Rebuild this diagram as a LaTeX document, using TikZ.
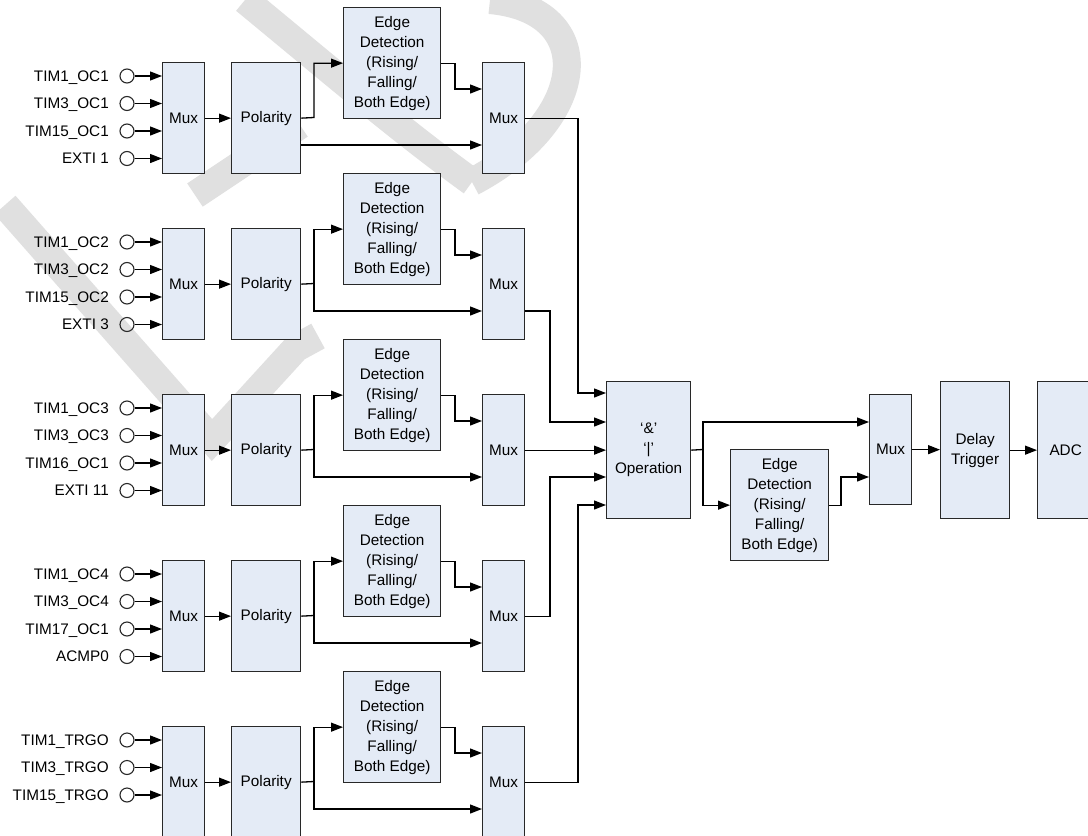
\documentclass[tikz,border=0pt]{standalone}
\usepackage{fontspec}
\setmainfont{Liberation Sans}
\usetikzlibrary{arrows.meta}
\definecolor{boxfill}{RGB}{228,235,246}
\definecolor{boxline}{RGB}{40,40,40}
\definecolor{wm}{RGB}{224,224,224}
\begin{document}
\begin{tikzpicture}[x=1pt,y=-1pt,
  blk/.style={draw=boxline, fill=boxfill, line width=1.3pt, inner sep=0pt, align=center,
              font=\fontsize{15.3}{20}\selectfont, anchor=north west},
  arr/.style={line width=1.3pt, draw=black, -{Triangle[length=12pt,width=9pt]}},
  ln/.style={line width=1.3pt, draw=black},
  port/.style={circle, draw=boxline, line width=1.1pt, minimum size=14pt, inner sep=0pt},
  lbl/.style={font=\fontsize{15.3}{18}\selectfont, anchor=east, inner sep=0pt,
              text height=10.9pt, text depth=0pt},
  wmark/.style={draw=wm, line width=28pt, line cap=butt}]

\useasboundingbox (0,0) rectangle (1088,836);
\clip (0,0) rectangle (1088,836);
\fill[white] (0,0) rectangle (1088,836);

% watermark (faint background logo)
\draw[wmark] (245,0) .. controls (330,70) and (400,130) .. (472,182);
\draw[wmark] (490,0) .. controls (600,10) and (590,120) .. (472,182);
\draw[wmark] (5,205) -- (212,440) -- (296,348) -- (318,336);
\draw[wmark] (195,195) -- (300,125);

% five input channels
\foreach \r in {0,...,4}{
  \pgfmathsetmacro\yT{62+166*\r}
  \node[blk, minimum width=42pt, minimum height=111pt] (m\r) at (162,\yT) {Mux};
  \node[blk, minimum width=69pt, minimum height=111pt] (p\r) at (231,\yT) {Polarity};
  \node[blk, minimum width=97pt, minimum height=111pt] (e\r) at (343,{\yT-55})
       {Edge\\Detection\\(Rising/\\Falling/\\Both Edge)};
  \node[blk, minimum width=42pt, minimum height=111pt] (n\r) at (482,\yT) {Mux};
  \coordinate (b\r) at (314,{\yT+55.5});
  \coordinate (l\r) at (314,{\yT+83});
  \coordinate (k\r) at (455,{\yT+27});
  \draw[arr] (m\r.east) -- (p\r.west);
  \ifnum\r=0
    \draw[arr] (p\r.east) -- (b\r) |- (e\r.west);
    \draw[arr] (p\r.east |- l\r) -- (l\r -| n\r.west);
  \else
    \draw[ln] (p\r.east) -- (b\r);
    \draw[arr] (b\r) |- (e\r.west);
    \draw[arr] (b\r) |- (l\r -| n\r.west);
  \fi
  \draw[arr] (e\r.east) -| (k\r) -- (k\r -| n\r.west);
}

% input ports with labels
\foreach \r/\la/\lb/\lc/\ld in {0/TIM1\_OC1/TIM3\_OC1/TIM15\_OC1/EXTI 1,
                                1/TIM1\_OC2/TIM3\_OC2/TIM15\_OC2/EXTI 3,
                                2/TIM1\_OC3/TIM3\_OC3/TIM16\_OC1/EXTI 11,
                                3/TIM1\_OC4/TIM3\_OC4/TIM17\_OC1/ACMP0}{
  \pgfmathsetmacro\yT{62+166*\r}
  \foreach \i/\lab in {0/\la,1/\lb,2/\lc,3/\ld}{
    \node[port] (c\r\i) at (127,{\yT+14+27.5*\i}) {};
    \node[lbl] (t\r\i) at (109,{\yT+14+27.5*\i}) {\lab};
    \draw[arr] (c\r\i) -- (c\r\i -| m\r.west);
  }
}
\foreach \i/\lab in {0/TIM1\_TRGO,1/TIM3\_TRGO,2/TIM15\_TRGO}{
  \node[port] (c4\i) at (127,{726+14+27.5*\i}) {};
  \node[lbl] (t4\i) at (109,{726+14+27.5*\i}) {\lab};
  \draw[arr] (c4\i) -- (c4\i -| m4.west);
}

% combining stage
\node[blk, minimum width=84pt, minimum height=137pt] (op) at (606,381) {‘\&’\\‘|’\\Operation};
\node[blk, minimum width=98pt, minimum height=111pt] (fe) at (730,449)
     {Edge\\Detection\\(Rising/\\Falling/\\Both Edge)};
\node[blk, minimum width=42pt, minimum height=110pt] (fm) at (869,394) {Mux};
\node[blk, minimum width=69pt, minimum height=137pt] (dt) at (940,381) {Delay\\Trigger};
\node[blk, minimum width=56pt, minimum height=137pt] (adc) at (1037,381) {ADC};

\coordinate (v0) at (578,393);
\coordinate (v1) at (550,422);
\coordinate (v3) at (550,477);
\coordinate (v4) at (578,505);
\draw[arr] (n0.east) -| (v0) -- (v0 -| op.west);
\draw[arr] (n1.east |- l1) -| (v1) -- (v1 -| op.west);
\draw[arr] (n2.east) -- (n2.east -| op.west);
\draw[arr] (n3.east) -| (v3) -- (v3 -| op.west);
\draw[arr] (n4.east) -| (v4) -- (v4 -| op.west);

\coordinate (ob) at (703,449.5);
\coordinate (fu) at (703,422);
\coordinate (fk) at (841,477);
\draw[ln] (op.east) -- (ob);
\draw[arr] (ob) -- (fu) -- (fu -| fm.west);
\draw[arr] (ob) |- (fe.west);
\draw[arr] (fe.east) -| (fk) -- (fk -| fm.west);
\draw[arr] (fm.east) -- (fm.east -| dt.west);
\draw[arr] (dt.east) -- (adc.west);
\end{tikzpicture}
\end{document}
